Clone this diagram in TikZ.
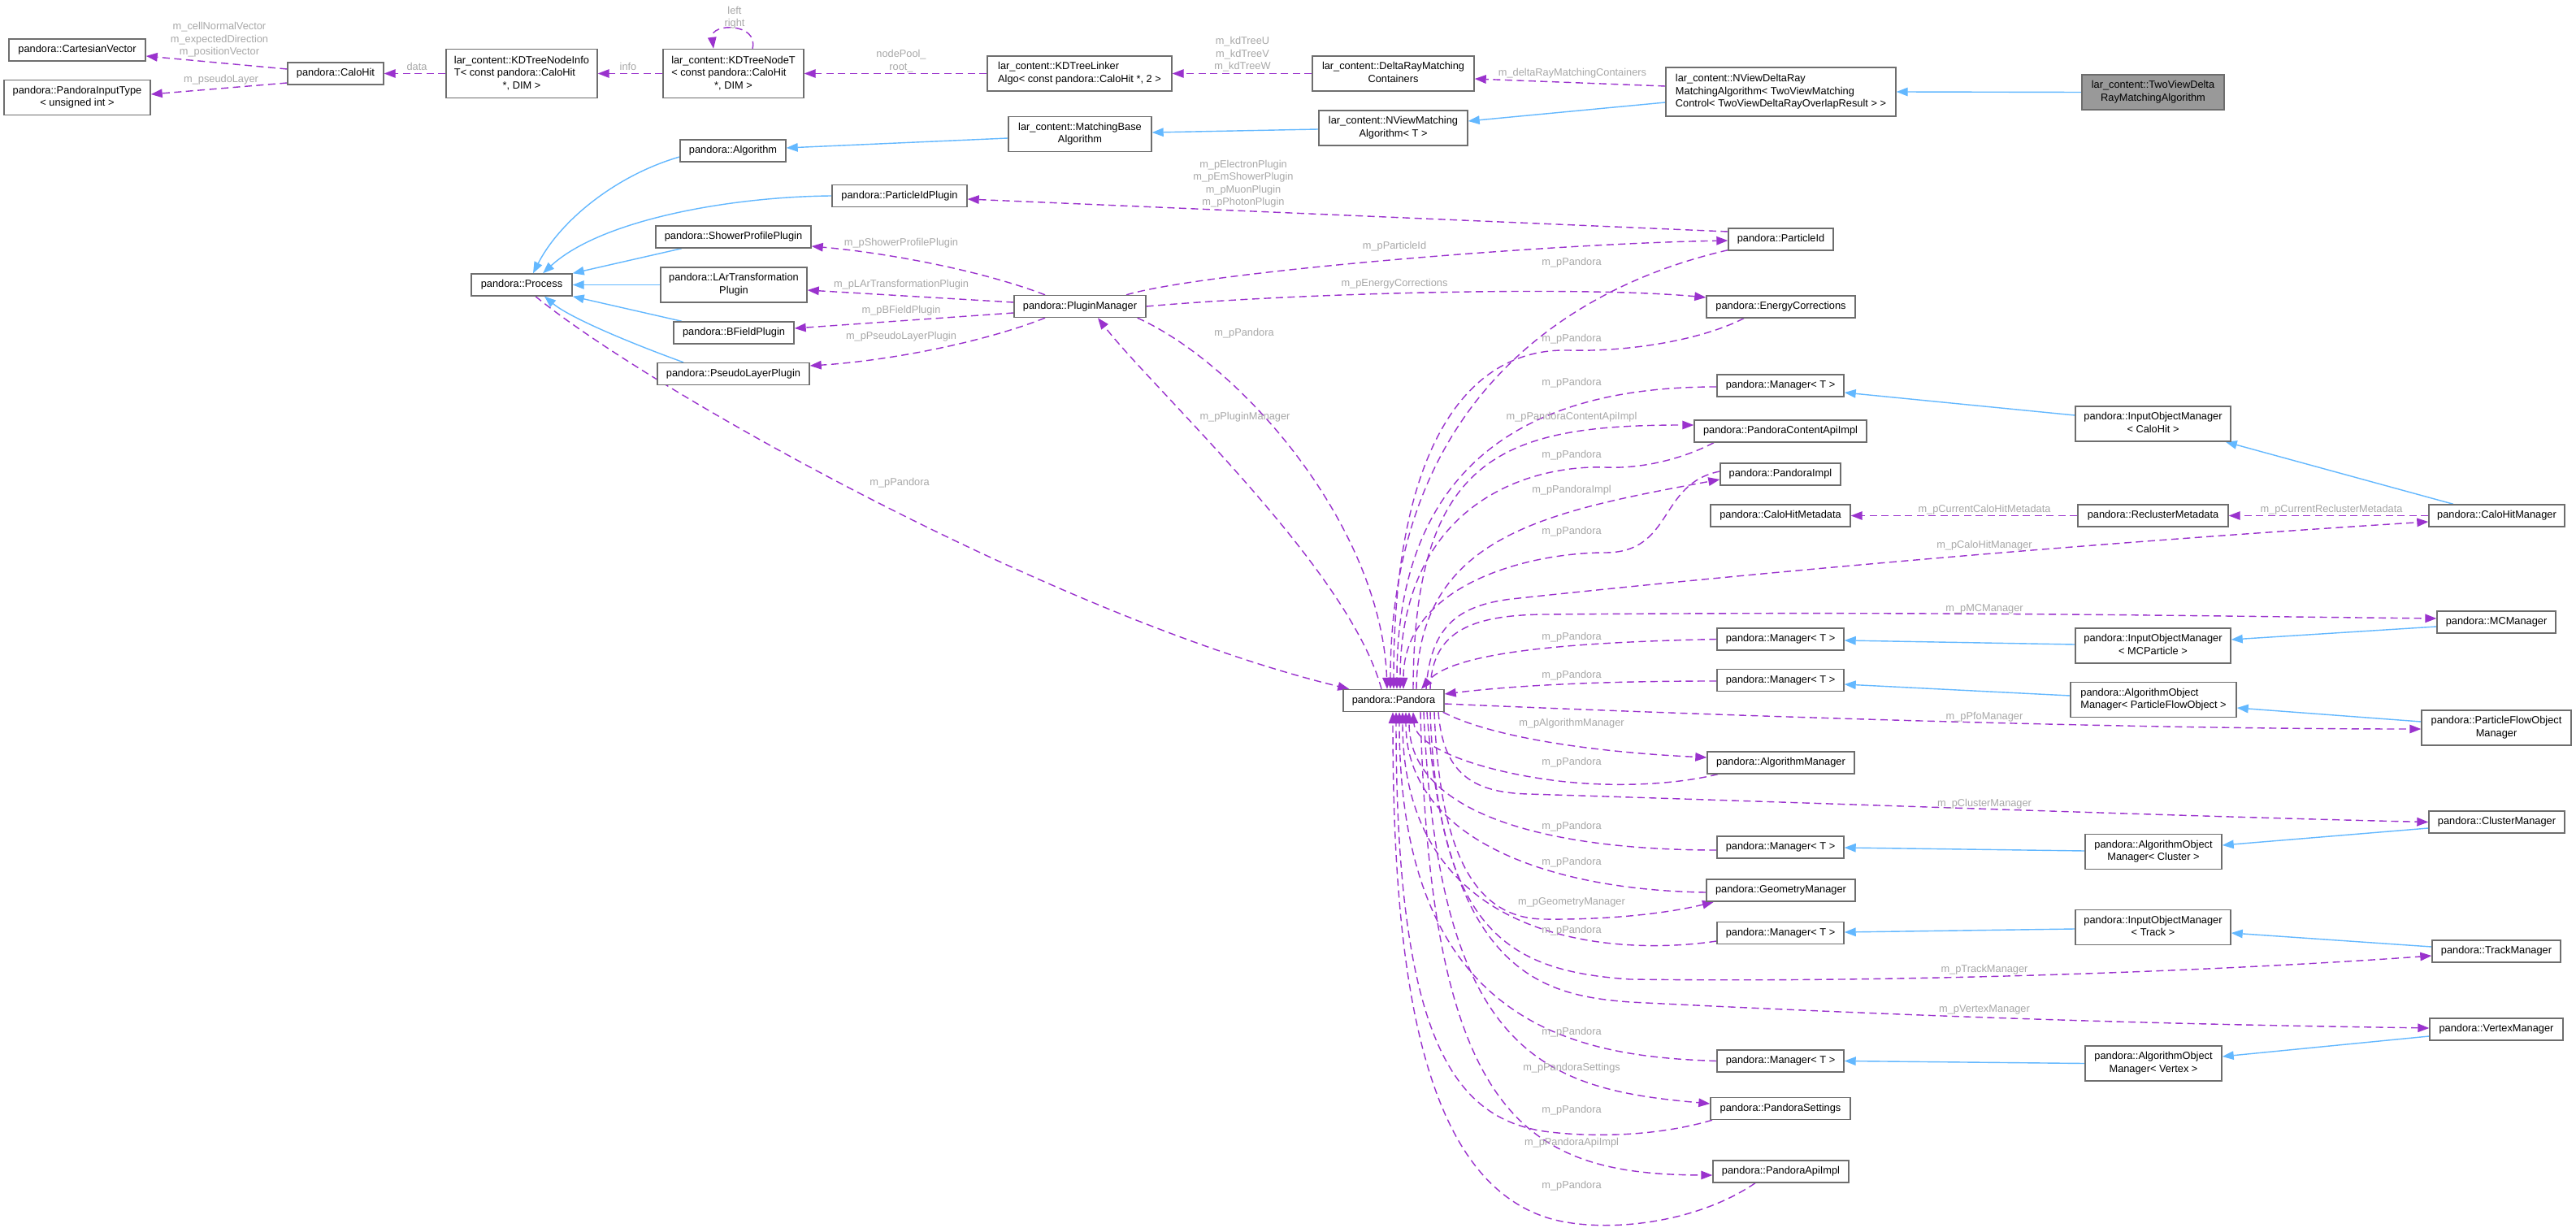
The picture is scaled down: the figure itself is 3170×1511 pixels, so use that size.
\documentclass[tikz,border=0pt]{standalone}
\usepackage{fontspec}
\setmainfont{Liberation Sans}
\usetikzlibrary{arrows.meta}
\pgfdeclarelayer{bg}
\pgfsetlayers{bg,main}
\definecolor{purp}{HTML}{9A32CD}
\definecolor{blu}{HTML}{63B8FF}
\definecolor{lgray}{HTML}{A8A8A8}
\definecolor{bgray}{HTML}{6E6E6E}
\definecolor{curfill}{HTML}{999999}
\newcommand{\bfnt}{\fontsize{12.8}{15.5}\selectfont}
\newcommand{\mlines}[2]{\begin{tabular}{@{}l@{}}#1\\\multicolumn{1}{@{}c@{}}{#2}\end{tabular}}
\tikzset{
  box/.style={draw=bgray, fill=white, line width=1.4pt, inner sep=0pt, font=\bfnt, rectangle},
  boxa/.style={box, minimum height=27pt},
  boxb/.style={box, minimum height=43pt},
  boxc/.style={box, minimum height=60pt},
  use/.style={draw=purp, line width=1.4pt, dash pattern=on 9pt off 5.5pt, -{Triangle[length=14pt,width=10.5pt]}, purp},
  inh/.style={draw=blu, line width=1.4pt, -{Triangle[length=14pt,width=10.5pt]}, blu},
  lbl/.style={text=lgray, font=\bfnt, align=center, inner sep=0pt},
}
\begin{document}
\begin{tikzpicture}[x=1pt,y=-1pt]
\useasboundingbox (0,0) rectangle (3170,1511);
\begin{pgfonlayer}{bg}
\fill[white] (0,0) rectangle (3170,1511);
\end{pgfonlayer}
% ---------------- nodes ----------------
\node[boxa,minimum width=168pt] (cv) at (95,61.5) {pandora::CartesianVector};
\node[boxb,minimum width=180pt] (pit) at (95,120) {\mlines{pandora::PandoraInputType}{< unsigned int >}};
\node[boxa,minimum width=118pt] (ch) at (413,90.5) {pandora::CaloHit};
\node[boxc,minimum width=186pt] (kni) at (642,90.5) {\mlines{lar\_content::KDTreeNodeInfo\\T< const pandora::CaloHit}{*, DIM >}};
\node[boxc,minimum width=173pt] (knt) at (902.5,90.5) {\mlines{lar\_content::KDTreeNodeT\\< const pandora::CaloHit}{*, DIM >}};
\node[boxb,minimum width=227pt] (kla) at (1328.5,90.5) {\mlines{lar\_content::KDTreeLinker}{Algo< const pandora::CaloHit *, 2 >}};
\node[boxb,minimum width=199pt] (drmc) at (1714.5,90.5) {\mlines{lar\_content::DeltaRayMatching}{Containers}};
\node[boxc,minimum width=283pt] (nvdr) at (2191.5,113) {\mlines{lar\_content::NViewDeltaRay\\MatchingAlgorithm< TwoViewMatching}{Control< TwoViewDeltaRayOverlapResult > >}};
\node[boxb,minimum width=175pt,fill=curfill] (tvdr) at (2649.5,113.5) {\mlines{lar\_content::TwoViewDelta}{RayMatchingAlgorithm}};
\node[boxb,minimum width=183pt] (nvm) at (1714.5,157.5) {\mlines{lar\_content::NViewMatching}{Algorithm< T >}};
\node[boxb,minimum width=176pt] (mba) at (1329,165) {\mlines{lar\_content::MatchingBase}{Algorithm}};
\node[boxa,minimum width=130pt] (alg) at (902,185.5) {pandora::Algorithm};
\node[boxa,minimum width=166pt] (pidp) at (1107,241) {pandora::ParticleIdPlugin};
\node[boxa,minimum width=129pt] (pid) at (2191.5,294.5) {pandora::ParticleId};
\node[boxa,minimum width=124pt] (proc) at (642,350.5) {pandora::Process};
\node[boxa,minimum width=191pt] (spp) at (902.5,291.5) {pandora::ShowerProfilePlugin};
\node[boxb,minimum width=180pt] (lar) at (903,350.5) {\mlines{pandora::LArTransformation}{Plugin}};
\node[boxa,minimum width=162pt] (pm) at (1329,377) {pandora::PluginManager};
\node[boxa,minimum width=148pt] (bfp) at (903,409.5) {pandora::BFieldPlugin};
\node[boxa,minimum width=187pt] (plp) at (902.5,460) {pandora::PseudoLayerPlugin};
\node[boxa,minimum width=183pt] (ec) at (2191.5,377.5) {pandora::EnergyCorrections};
\node[boxa,minimum width=156pt] (m1) at (2191,474.5) {pandora::Manager< T >};
\node[boxb,minimum width=191pt] (iomch) at (2649.5,521.5) {\mlines{pandora::InputObjectManager}{< CaloHit >}};
\node[boxa,minimum width=212pt] (pcai) at (2191,530.5) {pandora::PandoraContentApiImpl};
\node[boxa,minimum width=148pt] (pimpl) at (2191,583.5) {pandora::PandoraImpl};
\node[boxa,minimum width=172pt] (chmd) at (2191,634.5) {pandora::CaloHitMetadata};
\node[boxa,minimum width=185pt] (rmd) at (2649.5,634.5) {pandora::ReclusterMetadata};
\node[boxa,minimum width=167pt] (chm) at (3072.5,634.5) {pandora::CaloHitManager};
\node[boxa,minimum width=146pt] (mcm) at (3072,765.5) {pandora::MCManager};
\node[boxa,minimum width=156pt] (m2) at (2191,786.5) {pandora::Manager< T >};
\node[boxb,minimum width=191pt] (iommc) at (2649.5,794.5) {\mlines{pandora::InputObjectManager}{< MCParticle >}};
\node[boxa,minimum width=156pt] (m3) at (2191,837) {pandora::Manager< T >};
\node[boxb,minimum width=204pt] (aompfo) at (2650,861) {\mlines{pandora::AlgorithmObject}{Manager< ParticleFlowObject >}};
\node[boxa,minimum width=124pt] (pan) at (1715,862) {pandora::Pandora};
\node[boxb,minimum width=184pt] (pfom) at (3072,895.5) {\mlines{pandora::ParticleFlowObject}{Manager}};
\node[boxa,minimum width=181pt] (am) at (2191.5,938.5) {pandora::AlgorithmManager};
\node[boxa,minimum width=167pt] (clm) at (3072.5,1011.5) {pandora::ClusterManager};
\node[boxa,minimum width=156pt] (m4) at (2191,1042.5) {pandora::Manager< T >};
\node[boxb,minimum width=168pt] (aomcl) at (2650,1048) {\mlines{pandora::AlgorithmObject}{Manager< Cluster >}};
\node[boxa,minimum width=183pt] (gm) at (2191.5,1095.5) {pandora::GeometryManager};
\node[boxb,minimum width=191pt] (iomtr) at (2649.5,1141) {\mlines{pandora::InputObjectManager}{< Track >}};
\node[boxa,minimum width=156pt] (m5) at (2191,1148) {pandora::Manager< T >};
\node[boxa,minimum width=158pt] (trm) at (3072,1170.5) {pandora::TrackManager};
\node[boxa,minimum width=164pt] (vxm) at (3072,1266.5) {pandora::VertexManager};
\node[boxb,minimum width=168pt] (aomvx) at (2650,1308.5) {\mlines{pandora::AlgorithmObject}{Manager< Vertex >}};
\node[boxa,minimum width=156pt] (m6) at (2191,1305.5) {pandora::Manager< T >};
\node[boxa,minimum width=172pt] (ps) at (2191,1364) {pandora::PandoraSettings};
\node[boxa,minimum width=167pt] (pai) at (2191.5,1441.5) {pandora::PandoraApiImpl};
% ---------------- labels ----------------
\node[lbl] (l1) at (270,49) {m\_cellNormalVector\\m\_expectedDirection\\m\_positionVector};
\node[lbl] (l2) at (272,98) {m\_pseudoLayer};
\node[lbl] (l3) at (513,82) {data};
\node[lbl] (l4) at (773,82) {info};
\node[lbl] (l5) at (904,21.5) {left\\right};
\node[lbl] (l6) at (1109,75) {nodePool\_\\root\_};
\node[lbl] (l7) at (1529,67) {m\_kdTreeU\\m\_kdTreeV\\m\_kdTreeW};
\node[lbl] (l8) at (1935,90) {m\_deltaRayMatchingContainers};
\node[lbl] (l9) at (1530,226) {m\_pElectronPlugin\\m\_pEmShowerPlugin\\m\_pMuonPlugin\\m\_pPhotonPlugin};
\node[lbl] (l10) at (1109,299) {m\_pShowerProfilePlugin};
\node[lbl] (l11) at (1109,350) {m\_pLArTransformationPlugin};
\node[lbl] (l12) at (1109,382) {m\_pBFieldPlugin};
\node[lbl] (l13) at (1109,414) {m\_pPseudoLayerPlugin};
\node[lbl] (l14) at (1716,303) {m\_pParticleId};
\node[lbl] (l15) at (1716,349) {m\_pEnergyCorrections};
\node[lbl] (l16) at (1531,410) {m\_pPandora};
\node[lbl] (l17) at (1532,513) {m\_pPluginManager};
\node[lbl] (l18) at (1107,594) {m\_pPandora};
\node[lbl] (l19) at (1934,323) {m\_pPandora};
\node[lbl] (l20) at (1934,417) {m\_pPandora};
\node[lbl] (l21) at (1934,471) {m\_pPandora};
\node[lbl] (l22) at (1934,513) {m\_pPandoraContentApiImpl};
\node[lbl] (l23) at (1934,560) {m\_pPandora};
\node[lbl] (l24) at (1934,603) {m\_pPandoraImpl};
\node[lbl] (l25) at (1934,654) {m\_pPandora};
\node[lbl] (l26) at (2442,627) {m\_pCurrentCaloHitMetadata};
\node[lbl] (l27) at (2869,627) {m\_pCurrentReclusterMetadata};
\node[lbl] (l28) at (2442,671) {m\_pCaloHitManager};
\node[lbl] (l29) at (2442,749) {m\_pMCManager};
\node[lbl] (l30) at (1934,784) {m\_pPandora};
\node[lbl] (l31) at (1934,831) {m\_pPandora};
\node[lbl] (l32) at (2442,882) {m\_pPfoManager};
\node[lbl] (l33) at (1934,890) {m\_pAlgorithmManager};
\node[lbl] (l34) at (1934,938) {m\_pPandora};
\node[lbl] (l35) at (2442,989) {m\_pClusterManager};
\node[lbl] (l36) at (1934,1017) {m\_pPandora};
\node[lbl] (l37) at (1934,1061) {m\_pPandora};
\node[lbl] (l38) at (1934,1110) {m\_pGeometryManager};
\node[lbl] (l39) at (1934,1145) {m\_pPandora};
\node[lbl] (l40) at (2442,1193) {m\_pTrackManager};
\node[lbl] (l41) at (2442,1242) {m\_pVertexManager};
\node[lbl] (l42) at (1934,1270) {m\_pPandora};
\node[lbl] (l43) at (1934,1314) {m\_pPandoraSettings};
\node[lbl] (l44) at (1934,1366) {m\_pPandora};
\node[lbl] (l45) at (1934,1406) {m\_pPandoraApiImpl};
\node[lbl] (l46) at (1934,1459) {m\_pPandora};
% ---------------- edges ----------------
\begin{pgfonlayer}{bg}
% top row
\draw[use] ([yshift=5.5pt]ch.west) -- ([yshift=-7.5pt]cv.east);
\draw[use] ([yshift=-11.5pt]ch.west) -- ([yshift=4pt]pit.east);
\draw[use] (kni.west) -- (ch.east);
\draw[use] (knt.west) -- (kni.east);
\draw[use] ([xshift=23.5pt]knt.north) .. controls +(8,-32) and +(-4,-32) .. ([xshift=-24.5pt]knt.north);
\draw[use] (kla.west) -- (knt.east);
\draw[use] (drmc.west) -- (kla.east);
\draw[use] ([yshift=7pt]nvdr.west) -- ([yshift=-6.5pt]drmc.east);
\draw[inh] (tvdr.west) -- (nvdr.east);
\draw[inh] ([yshift=-13pt]nvdr.west) -- ([yshift=8.5pt]nvm.east);
\draw[inh] ([yshift=-1.5pt]nvm.west) -- ([yshift=2pt]mba.east);
\draw[inh] ([yshift=-5pt]mba.west) -- ([yshift=3.5pt]alg.east);
% process hierarchy
\draw[inh] ([yshift=-7.5pt]alg.west) .. controls (760,215) and (690,270) .. ([xshift=14pt]proc.north);
\draw[inh] (pidp.west) .. controls (900,242) and (740,270) .. ([xshift=26pt]proc.north);
\draw[inh] ([xshift=-63.5pt]spp.south) -- (proc.north east);
\draw[inh] (lar.west) -- (proc.east);
\draw[inh] ([xshift=-64pt]bfp.north) -- (proc.south east);
\draw[inh] ([xshift=-61.5pt]plp.north) .. controls (770,420) and (700,390) .. ([xshift=28pt]proc.south);
% plugin manager
\draw[use] ([xshift=-43pt]pm.north) .. controls (1200,330) and (1080,310) .. ([yshift=-11.5pt]spp.east);
\draw[use] ([yshift=5pt]pm.west) -- ([yshift=-6.5pt]lar.east);
\draw[use] ([yshift=-8pt]pm.west) -- ([yshift=5.5pt]bfp.east);
\draw[use] ([xshift=-43pt]pm.south) .. controls (1200,425) and (1080,445) .. ([yshift=10pt]plp.east);
\draw[use] ([xshift=57pt]pm.north) .. controls (1480,335) and (1900,300) .. ([yshift=-1.5pt]pid.west);
\draw[use] ([yshift=9.5pt]pid.west) -- ([yshift=-4pt]pidp.east);
\draw[use] (pm.east) .. controls (1600,360) and (1950,352) .. ([yshift=11.5pt]ec.west);
\draw[use] ([xshift=-11pt]pm.south east) .. controls (1530,450) and (1700,650) .. ([xshift=-8pt]pan.north);
\draw[use] ([xshift=-15pt]pan.north) .. controls (1660,700) and (1420,480) .. ([xshift=22pt]pm.south);
\draw[use] ([xshift=17pt]proc.south) .. controls (800,480) and (1300,760) .. ([xshift=8pt]pan.north west);
% upper middle column
\draw[use] ([yshift=1pt]pid.south west) .. controls (1900,360) and (1711,520) .. ([xshift=-4pt]pan.north);
\draw[use] ([xshift=-45.5pt]ec.south) .. controls (2090,420) and (2000,433) .. (1930,431) .. controls (1800,428) and (1715,560) .. (pan.north);
\draw[use] ([yshift=-1.5pt]m1.west) .. controls (1950,476) and (1719,520) .. ([xshift=4pt]pan.north);
\draw[use] ([xshift=24pt]pan.north) .. controls (1740,560) and (1850,523) .. ([yshift=7.5pt]pcai.west);
\draw[use] ([xshift=-82pt]pcai.south) .. controls (2070,565) and (2020,577) .. (1975,575) .. controls (1880,572) and (1723,620) .. ([xshift=8pt]pan.north);
\draw[use] ([xshift=28pt]pan.north) .. controls (1745,660) and (1900,630) .. ([yshift=-6.5pt]pimpl.west);
\draw[use] ([yshift=3.5pt]pimpl.west) .. controls (2040,595) and (2060,680) .. (1975,680) .. controls (1880,680) and (1727,720) .. ([xshift=12pt]pan.north);
\draw[use] (rmd.west) -- (chmd.east);
\draw[use] (chm.west) -- (rmd.east);
\draw[use] ([xshift=40pt]pan.north) .. controls (1760,770) and (1795,745) .. (1860,737) .. controls (2300,690) and (2700,660) .. ([yshift=-7.5pt]chm.west);
\draw[use] ([xshift=45pt]pan.north) .. controls (1762,780) and (1805,757) .. (1900,756) .. controls (2400,752) and (2700,758) .. ([yshift=4.5pt]mcm.west);
\draw[use] (m2.west) .. controls (1950,790) and (1790,800) .. ([xshift=34pt]pan.north);
\draw[use] ([yshift=-1pt]m3.west) .. controls (1950,838) and (1850,845) .. ([yshift=8pt]pan.east);
\draw[use] ([yshift=-4pt]pan.east) .. controls (2100,880) and (2600,897) .. ([yshift=-1.5pt]pfom.west);
% lower middle column
\draw[use] ([xshift=-2pt]pan.south east) .. controls (1830,905) and (1950,925) .. ([yshift=6.5pt]am.west);
\draw[use] ([xshift=-77.5pt]am.south) .. controls (2050,968) and (1970,968) .. (1910,960) .. controls (1820,948) and (1742,920) .. ([xshift=24pt]pan.south);
\draw[use] ([xshift=55pt]pan.south) .. controls (1776,950) and (1810,975) .. (1880,977) .. controls (2300,990) and (2700,1005) .. (clm.west);
\draw[use] ([yshift=-3.5pt]m4.west) .. controls (1900,1046) and (1734,1000) .. ([xshift=19pt]pan.south);
\draw[use] ([yshift=-2.5pt]gm.west) .. controls (1900,1095) and (1730,1030) .. ([xshift=15pt]pan.south);
\draw[use] ([xshift=50pt]pan.south) .. controls (1772,1060) and (1820,1130) .. (1900,1131) .. controls (1990,1132) and (2060,1122) .. ([xshift=-82.5pt]gm.south);
\draw[use] ([yshift=-10pt]m5.west) .. controls (2000,1175) and (1726,1170) .. ([xshift=11pt]pan.south);
\draw[use] ([xshift=45pt]pan.south) .. controls (1770,1150) and (1860,1195) .. (2006,1205) .. controls (2400,1210) and (2800,1190) .. ([yshift=-5.5pt]trm.west);
\draw[use] ([xshift=41pt]pan.south) .. controls (1780,1200) and (1900,1225) .. (2006,1233) .. controls (2500,1258) and (2800,1262) .. ([yshift=1.5pt]vxm.west);
\draw[use] (m6.west) .. controls (1950,1300) and (1722,1270) .. ([xshift=7pt]pan.south);
\draw[use] ([xshift=37pt]pan.south) .. controls (1770,1300) and (1900,1340) .. ([yshift=6pt]ps.west);
\draw[use] ([xshift=-84pt]ps.south) .. controls (2040,1398) and (1960,1400) .. (1900,1392) .. controls (1790,1375) and (1718,1280) .. ([xshift=3pt]pan.south);
\draw[use] ([xshift=33pt]pan.south) .. controls (1760,1380) and (1880,1445) .. ([yshift=-4.5pt]pai.west);
\draw[use] ([xshift=-31.5pt]pai.south) .. controls (2080,1510) and (1960,1518) .. (1900,1497) .. controls (1750,1445) and (1714,1200) .. ([xshift=-1pt]pan.south);
% right side inheritance
\draw[inh] ([yshift=10.5pt]iomch.west) -- ([yshift=-8.5pt]m1.east);
\draw[inh] ([xshift=-53.5pt]chm.north) -- ([xshift=-7pt]iomch.south east);
\draw[inh] ([yshift=-5.5pt]mcm.west) -- ([yshift=7.5pt]iommc.east);
\draw[inh] ([yshift=1.5pt]iommc.west) -- ([yshift=-1.5pt]m2.east);
\draw[inh] ([yshift=5pt]aompfo.west) -- ([yshift=-5pt]m3.east);
\draw[inh] ([yshift=7.5pt]pfom.west) -- ([yshift=-10pt]aompfo.east);
\draw[inh] ([yshift=1pt]aomcl.west) -- ([yshift=-0.5pt]m4.east);
\draw[inh] ([yshift=-7.5pt]clm.west) -- ([yshift=8pt]aomcl.east);
\draw[inh] ([yshift=-2pt]iomtr.west) -- ([yshift=1pt]m5.east);
\draw[inh] ([yshift=5.5pt]trm.west) -- ([yshift=-7pt]iomtr.east);
\draw[inh] (aomvx.west) -- (m6.east);
\draw[inh] ([yshift=-8.5pt]vxm.west) -- ([yshift=8.5pt]aomvx.east);
\end{pgfonlayer}
\end{tikzpicture}
\end{document}
